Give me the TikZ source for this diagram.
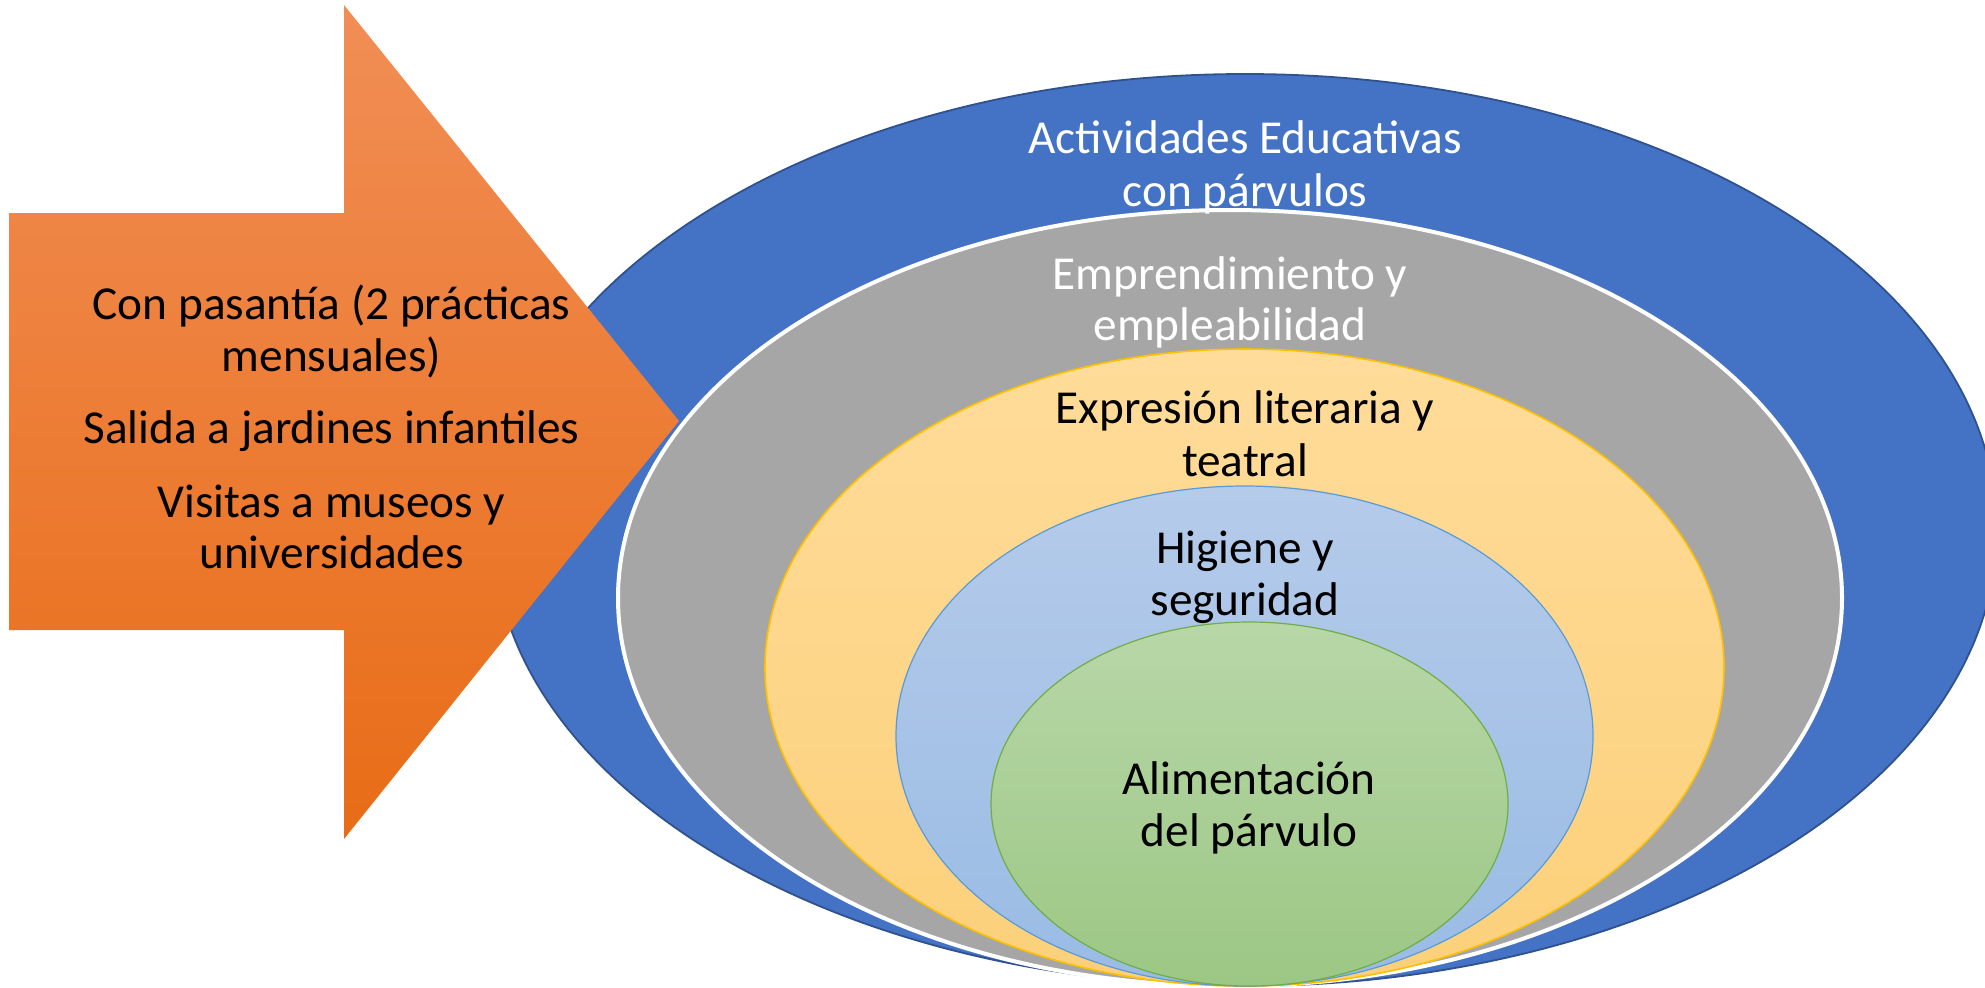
\documentclass[tikz,border=0pt]{standalone}
\usepackage{fontspec}
\setmainfont{Carlito}
\usetikzlibrary{shapes.geometric}
\definecolor{cBlue}{RGB}{68,114,196}
\definecolor{cBlueLine}{RGB}{47,82,143}
\definecolor{cGray}{RGB}{166,166,166}
\definecolor{cYelTop}{RGB}{255,220,154}
\definecolor{cYelBot}{RGB}{252,208,122}
\definecolor{cYelLine}{RGB}{255,192,0}
\definecolor{cLbTop}{RGB}{181,203,234}
\definecolor{cLbBot}{RGB}{153,187,228}
\definecolor{cLbLine}{RGB}{91,155,213}
\definecolor{cGrTop}{RGB}{184,215,168}
\definecolor{cGrBot}{RGB}{156,199,132}
\definecolor{cGrLine}{RGB}{112,173,71}
\definecolor{cOrTop}{RGB}{241,142,86}
\definecolor{cOrMid}{RGB}{244,124,40}
\definecolor{cOrBot}{RGB}{232,108,22}
\begin{document}
\begin{tikzpicture}[x=0.5pt,y=-0.5pt,
  lbl/.style={anchor=base, inner sep=0pt, font=\fontsize{23.65pt}{26.25pt}\selectfont},
  ring/.style={ellipse, inner sep=0pt, anchor=center}]
\useasboundingbox (0,0) rectangle (1985,987);
\clip (0,0) rectangle (1985,987);
% nested ellipses
\node[ring, fill=cBlue, draw=cBlueLine, line width=0.9pt,
  minimum width=752pt, minimum height=456pt] (blue) at (1245,530) {};
\node[ring, fill=cGray, draw=white, line width=2pt,
  minimum width=612pt, minimum height=388pt] (gray) at (1230,598) {};
\node[ring, top color=cYelTop, bottom color=cYelBot, draw=cYelLine, line width=0.8pt,
  minimum width=479.5pt, minimum height=318.5pt] (yellow) at (1244.5,667.5) {};
\node[ring, top color=cLbTop, bottom color=cLbBot, draw=cLbLine, line width=0.6pt,
  minimum width=348.5pt, minimum height=250pt] (lblue) at (1244.5,736) {};
\node[ring, top color=cGrTop, bottom color=cGrBot, draw=cGrLine, line width=0.6pt,
  minimum width=258.5pt, minimum height=182pt] (green) at (1249.5,804) {};
% ellipse labels
\node[lbl, text=white] (t1a) at (1245,153) {Actividades Educativas};
\node[lbl, text=white] (t1b) at (1245,206) {con párvulos};
\node[lbl, text=white] (t2a) at (1230,289) {Emprendimiento y};
\node[lbl, text=white] (t2b) at (1230,340) {empleabilidad};
\node[lbl] (t3a) at (1245,423) {Expresión literaria y};
\node[lbl] (t3b) at (1245,476) {teatral};
\node[lbl] (t4a) at (1245,563) {Higiene y};
\node[lbl] (t4b) at (1245,615) {seguridad};
\node[lbl] (t5a) at (1249,794) {Alimentación};
\node[lbl] (t5b) at (1249,846) {del párvulo};
% arrow
\shade[top color=cOrTop, middle color=cOrMid, bottom color=cOrBot]
  (9,213) -- (344,213) -- (344,5) -- (679,421) -- (344,839) -- (344,630) -- (9,630) -- cycle;
\node[lbl] (a1a) at (331.5,319) {Con pasantía (2 prácticas};
\node[lbl] (a1b) at (331.5,371) {mensuales)};
\node[lbl] (a2) at (331.5,443) {Salida a jardines infantiles};
\node[lbl] (a3a) at (331.5,517) {Visitas a museos y};
\node[lbl] (a3b) at (331.5,568) {universidades};
\end{tikzpicture}
\end{document}
